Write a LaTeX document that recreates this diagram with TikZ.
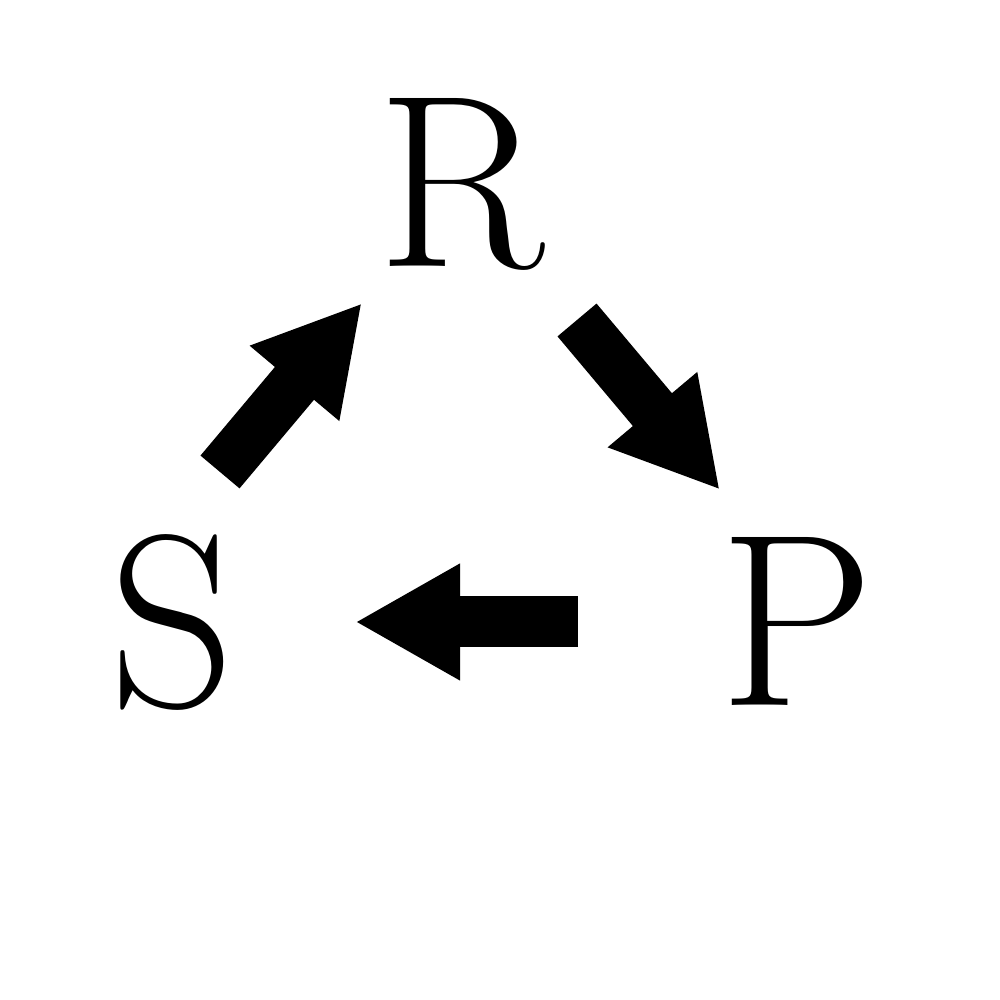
\documentclass[tikz,border=0pt]{standalone}
\usetikzlibrary{arrows.meta}

\begin{document}
\begin{tikzpicture}[
	letter/.style={font=\fontsize{70}{70}\selectfont,inner sep=0pt},
	blockarrow/.style={line width=0.51cm,-{Triangle[length=1.05cm,width=1.09cm]}}]
	\useasboundingbox (0,0) rectangle (10,10);
	
	%SPECIES
	\node[letter] (rock)     at (4.61,8.16) {R};
	\node[letter] (scissors) at (1.72,3.78) {S};
	\node[letter] (paper)    at (7.97,3.79) {P};
	
	%ARROW ENDS
	\coordinate (sr0) at (2.20,5.28); \coordinate (sr1) at (3.62,6.97);
	\coordinate (rp0) at (5.77,6.80); \coordinate (rp1) at (7.20,5.10);
	\coordinate (ps0) at (5.78,3.78); \coordinate (ps1) at (3.55,3.78);
	
	%ARROWS
	\draw[blockarrow] (sr0) -- (sr1); %scissors -- rock
	\draw[blockarrow] (rp0) -- (rp1); %rock -- paper
	\draw[blockarrow] (ps0) -- (ps1); %paper -- scissors
\end{tikzpicture}
\end{document}
